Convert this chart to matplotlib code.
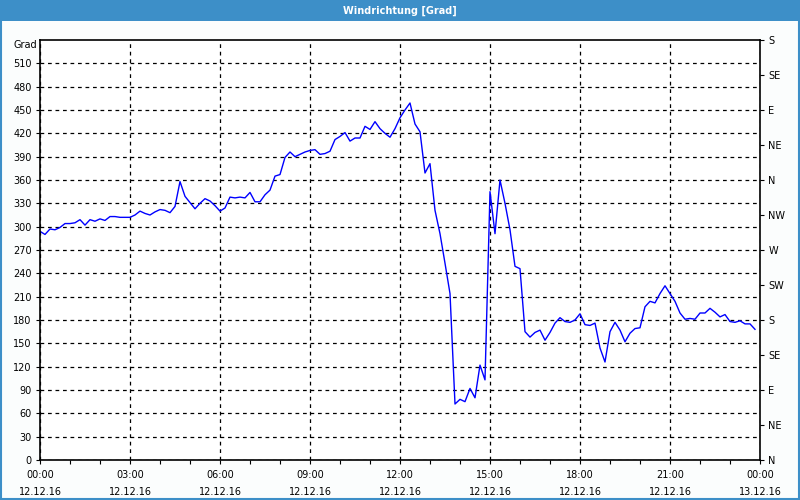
import matplotlib
matplotlib.use("Agg")
import matplotlib.pyplot as plt
import matplotlib.dates as mdates
import matplotlib.patches as mpatches
import pandas as pd

title = "Windrichtung [Grad]"
y_unit = "Grad"
start_time = "2016-12-12 00:00"
step = "10min"

seg_0000_0750 = [294, 290, 297, 296, 299, 304, 304, 305, 309, 302, 309, 307,
                 310, 308, 313, 313, 312, 312, 312, 315, 320, 317, 315, 319,
                 322, 321, 318, 326, 358, 339, 331, 323, 330, 336, 333, 327,
                 320, 324, 338, 337, 338, 337, 344, 332, 332, 341, 347, 365]
seg_0800_1550 = [367, 389, 396, 390, 393, 396, 398, 399, 393, 394, 397, 412,
                 416, 421, 410, 414, 414, 429, 425, 435, 426, 420, 415, 426,
                 440, 450, 459, 432, 422, 369, 381, 321, 291, 253, 214, 72,
                 78, 75, 92, 80, 122, 103, 345, 291, 360, 330, 296, 249]
seg_1600_2350 = [246, 165, 158, 164, 167, 154, 164, 176, 183, 178, 177, 180,
                 188, 174, 173, 176, 144, 126, 165, 177, 167, 152, 163, 169,
                 170, 197, 204, 202, 214, 224, 214, 204, 189, 181, 182, 181,
                 189, 189, 195, 190, 184, 187, 178, 177, 179, 175, 175, 168]

values = seg_0000_0750 + seg_0800_1550 + seg_1600_2350
times = pd.date_range(start_time, periods=len(values), freq=step)

left_ticks = list(range(0, 511, 30))
right_ticks = list(range(0, 541, 45))
right_labels = ["N", "NE", "E", "SE", "S", "SW", "W", "NW", "N", "NE", "E", "SE", "S"]

blue_bar = "#3d8fc8"

fig = plt.figure(figsize=(8, 5), dpi=100, facecolor="#fbfdfd")
ax = fig.add_axes([0.05, 0.08, 0.90, 0.84])
ax.set_facecolor("white")

ax.plot(times, values, color="#0000ff", linewidth=1.0)

ax.set_ylim(0, 540)
ax.set_xlim(pd.Timestamp("2016-12-12 00:00"), pd.Timestamp("2016-12-13 00:00"))
ax.set_yticks(left_ticks)
ax.xaxis.set_major_locator(mdates.HourLocator(byhour=range(0, 24, 3)))
ax.xaxis.set_minor_locator(mdates.HourLocator())
ax.xaxis.set_major_formatter(mdates.DateFormatter("%H:%M\n%d.%m.%y"))

ax.grid(True, which="major", color="black", linestyle=(0, (3, 3)), linewidth=0.9)
for s in ax.spines.values():
    s.set_color("black")
    s.set_linewidth(1.2)

ax.tick_params(axis="y", labelsize=7, length=3, width=0.8, colors="black", pad=3)
ax.tick_params(axis="x", which="major", labelsize=7, length=3, width=0.8, pad=4)
ax.tick_params(axis="x", which="minor", length=3, width=0.8)
for lbl in ax.get_xticklabels():
    lbl.set_linespacing(1.9)

ax2 = ax.twinx()
ax2.set_ylim(0, 540)
ax2.set_yticks(right_ticks)
ax2.set_yticklabels(right_labels)
ax2.tick_params(axis="y", labelsize=7, length=3, width=0.8, pad=3)
for s in ax2.spines.values():
    s.set_visible(False)

fig.text(0.046, 0.91, y_unit, fontsize=7, ha="right", va="center")

# title bar
fig.patches.append(mpatches.Rectangle((0, 0.958), 1, 0.042, transform=fig.transFigure,
                                      facecolor=blue_bar, edgecolor="none", zorder=0))
fig.text(0.5, 0.979, title, fontsize=7, color="white", fontweight="bold",
         ha="center", va="center")
fig.patches.append(mpatches.Rectangle((0.0012, 0.002), 0.9976, 0.996, transform=fig.transFigure,
                                      facecolor="none", edgecolor=blue_bar, linewidth=1.5, zorder=0))

fig.savefig("out.png", dpi=100, facecolor=fig.get_facecolor())
